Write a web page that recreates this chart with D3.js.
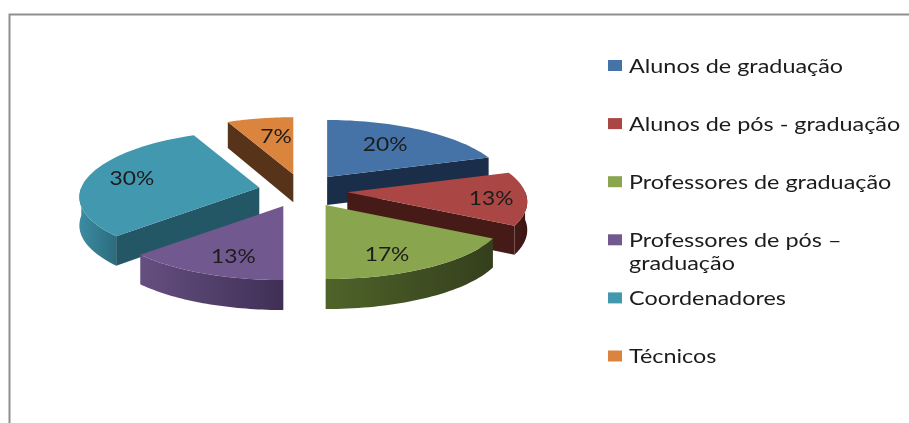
<!DOCTYPE html>
<html>
<head>
<meta charset="utf-8">
<script src="https://cdn.jsdelivr.net/npm/d3@7"></script>
<style>
  html, body { margin: 0; padding: 0; background: #fff; overflow: hidden; }
  svg { display: block; filter: blur(0.5px); }
  text { font-family: Lato, sans-serif; fill: #1c1c1c; }
</style>
</head>
<body>
<svg id="chart" width="909" height="423"></svg>
<script>
const categories = ["Alunos de graduação", "Alunos de pós - graduação", "Professores de graduação", "Professores de pós –|graduação", "Coordenadores", "Técnicos"];
const values = [20, 13, 17, 13, 30, 7];
const topColors = ["#4573a7", "#aa4643", "#89a54e", "#71588f", "#4198af", "#db843d"];
const cutColors = ["#1a2e4a", "#451a17", "#37421f", "#42325a", "#235766", "#57331a"];
// wall shading, left end then right end
const rimLeft = ["#1a2e4a", "#451a17", "#4f6329", "#654f80", "#3c8ca2", "#57331a"];
const rimRight = ["#1a2e4a", "#3c1613", "#343f1d", "#3f2f55", "#2c6b7d", "#57331a"];
// painter's order, back slices first
const drawOrder = [5, 0, 1, 4, 3, 2];
const labelFx = [0.63, 0.8, 0.6, 0.62, 0.75, 0.52];
const labelFy = [0.7, 0.8, 0.77, 0.74, 0.8, 0.7];
const nudgeX = [-2, 0, 0, -2, 0, 0];
const legendRows = [0, 1, 2, 3, 4, 5];

var svg = d3.select("#chart");
var defs = svg.append("defs");

// frame, only top and left are in the picture
svg.append("path")
  .attr("d", "M9.5,423V14.5H909")
  .attr("fill", "none")
  .attr("stroke", "#8f8f8f")
  .attr("stroke-width", 2);

var cx = 303, cy = 190.6, explodeX = 44.5, explodeY = 16.8;

// flat disc to screen, near side of the pie comes out bigger
function project(t, r) {
  var X = r * Math.sin(t), Y = -r * Math.cos(t);
  return [178 * X * (1 + 0.15 * Y), 65.5 * Y * (1 + 0.13 * Y)];
}
function depth(t, r) {
  return 28 + 2 * (-r * Math.cos(t));
}

var arcs = d3.pie().sort(null)(values);
var line = d3.line();
var g = svg.append("g");

drawOrder.forEach(function (i) {
  var a = arcs[i];
  var mid = (a.startAngle + a.endAngle) / 2;
  var ax = cx + explodeX * Math.sin(mid) + nudgeX[i];
  var ay = cy - explodeY * Math.cos(mid);
  var pt = function (t, r, down) {
    var p = project(t, r);
    return [ax + p[0], ay + p[1] + (down ? depth(t, r) : 0)];
  };
  var steps = d3.range(0, 41).map(function (k) {
    return a.startAngle + (a.endAngle - a.startAngle) * k / 40;
  });

  var s = g.append("g").attr("class", "slice");

  // outer wall, front part only
  var front = steps.filter(function (t) { return Math.cos(t) <= 0.02; });
  if (front.length > 1) {
    var xs = d3.extent(front, function (t) { return pt(t, 1)[0]; });
    var grad = defs.append("linearGradient").attr("id", "rim" + i)
      .attr("gradientUnits", "userSpaceOnUse")
      .attr("x1", xs[0]).attr("x2", xs[1]).attr("y1", 0).attr("y2", 0);
    grad.append("stop").attr("offset", 0).attr("stop-color", rimLeft[i]);
    grad.append("stop").attr("offset", 1).attr("stop-color", rimRight[i]);
    var wall = front.map(function (t) { return pt(t, 1); })
      .concat(front.slice().reverse().map(function (t) { return pt(t, 1, true); }));
    s.append("path").attr("d", line(wall) + "Z").attr("fill", "url(#rim" + i + ")");
  }

  // cut faces
  [[a.startAngle, Math.sin(a.startAngle) < -0.01], [a.endAngle, Math.sin(a.endAngle) > 0.01]].forEach(function (c) {
    if (!c[1]) return;
    var face = [pt(c[0], 0), pt(c[0], 1), pt(c[0], 1, true), pt(c[0], 0, true)];
    s.append("path").attr("d", line(face) + "Z").attr("fill", cutColors[i]);
  });

  // top
  var top = [pt(0, 0)].concat(steps.map(function (t) { return pt(t, 1); }));
  s.append("path").attr("d", line(top) + "Z").attr("fill", topColors[i]);

  // value label
  var p = project(mid, 1);
  s.append("text")
    .attr("text-anchor", "middle")
    .attr("dominant-baseline", "central")
    .attr("transform", "translate(" + (ax + p[0] * labelFx[i]) + "," + (ay + p[1] * labelFy[i]) + ") scale(1.14,1)")
    .attr("font-size", 20)
    .text(values[i] + "%");
});

// legend
var legendY = d3.scaleLinear().domain([0, 5]).range([65.5, 356]);
var legend = svg.append("g").selectAll("g").data(legendRows).join("g")
  .attr("transform", function (d) { return "translate(608," + legendY(d) + ")"; });
legend.append("rect").attr("x", 0).attr("y", -5.5).attr("width", 14).attr("height", 11)
  .attr("fill", function (d) { return topColors[d]; });
legend.each(function (d) {
  var row = d3.select(this);
  categories[d].split("|").forEach(function (part, k) {
    row.append("text")
      .attr("transform", "translate(21," + (k * 23) + ") scale(1.17,1)")
      .attr("dominant-baseline", "central")
      .attr("font-size", 20)
      .text(part);
  });
});
</script>
</body>
</html>
